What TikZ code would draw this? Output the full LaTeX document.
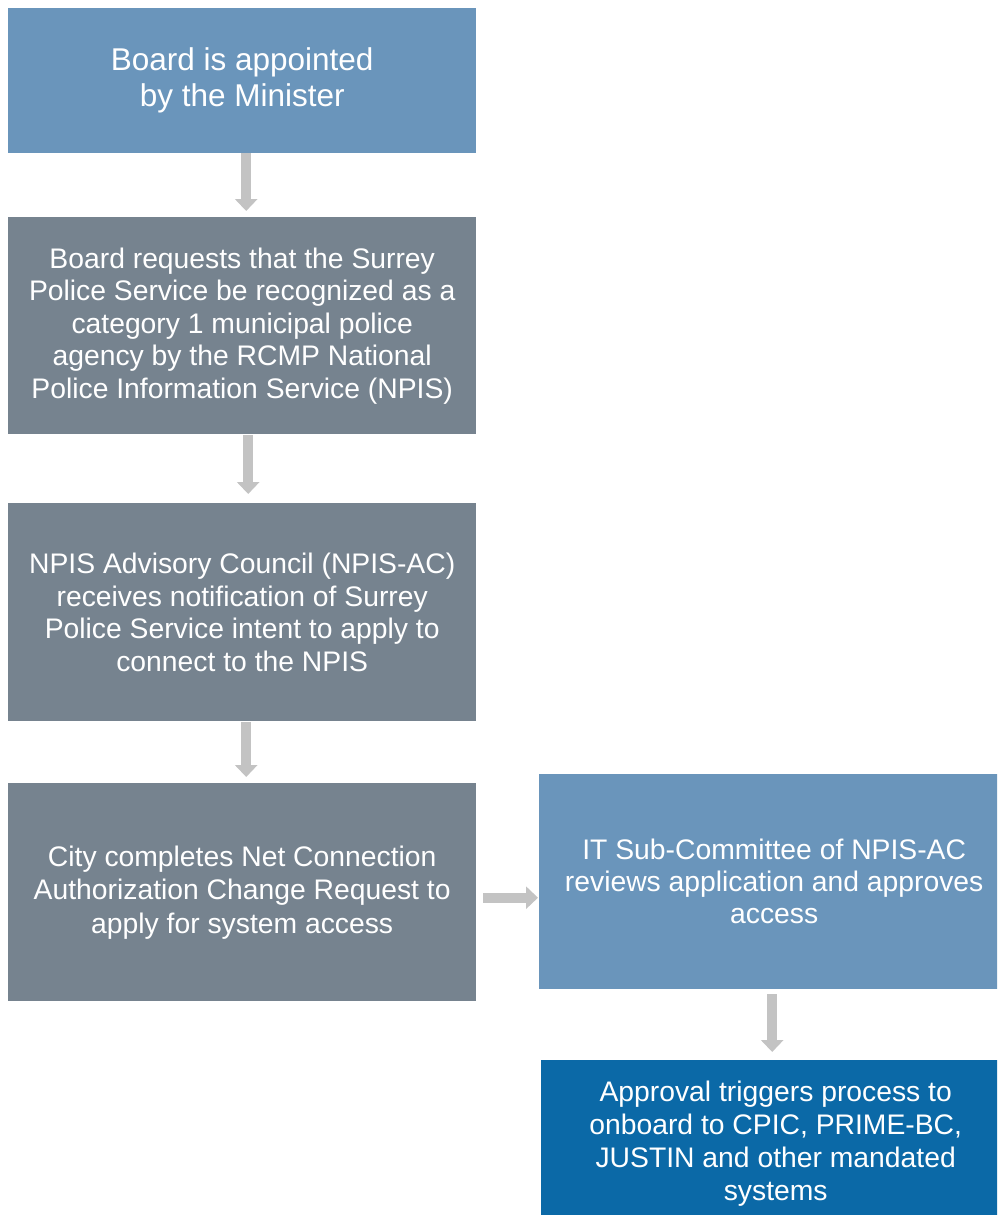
\documentclass[tikz,border=0pt]{standalone}
\usepackage{fontspec}
\setmainfont{Liberation Sans}
\usetikzlibrary{arrows.meta}
\definecolor{paleblue}{HTML}{6A95BB}
\definecolor{slate}{HTML}{76838F}
\definecolor{deepblue}{HTML}{0B69A7}
\definecolor{arrowgray}{HTML}{C3C3C3}
\begin{document}
\begin{tikzpicture}[x=1pt,y=1pt,
  stepbox/.style={anchor=north west, inner sep=0pt, text=white, align=center,
    font=\fontsize{28.3}{32.5}\selectfont},
  flow/.style={draw=arrowgray, line width=10pt,
    -{Triangle[width=22pt,length=12pt]}}]
\useasboundingbox (0,0) rectangle (997,-1215);
\fill[white] (0,0) rectangle (997,-1215);
\begin{scope}
\clip (0,0) rectangle (997,-1215);

\node[stepbox, fill=paleblue, minimum width=468pt, minimum height=145pt,
  font=\fontsize{31.5}{36}\selectfont] (b1) at (8,-8)
  {Board is appointed\\by the Minister};
\node[stepbox, fill=slate, minimum width=468pt, minimum height=217pt] (b2) at (8,-217)
  {Board requests that the Surrey\\Police Service be recognized as a\\category 1 municipal police\\agency by the RCMP National\\Police Information Service (NPIS)};
\node[stepbox, fill=slate, minimum width=468pt, minimum height=218pt] (b3) at (8,-503)
  {NPIS Advisory Council (NPIS-AC)\\receives notification of Surrey\\Police Service intent to apply to\\connect to the NPIS};
\node[stepbox, fill=slate, minimum width=468pt, minimum height=218pt,
  font=\fontsize{28.3}{33.5}\selectfont] (b4) at (8,-783)
  {City completes Net Connection\\Authorization Change Request to\\apply for system access};
\node[stepbox, fill=paleblue, minimum width=470pt, minimum height=215pt,
  font=\fontsize{28.3}{32}\selectfont] (b5) at (539,-774)
  {IT Sub-Committee of NPIS-AC\\reviews application and approves\\access};
\node[stepbox, fill=deepblue, minimum width=469pt, minimum height=166pt,
  font=\fontsize{28.3}{33}\selectfont] (b6) at (541,-1060)
  {Approval triggers process to\\onboard to CPIC, PRIME-BC,\\JUSTIN and other mandated\\systems};

\draw[flow, shorten >=6pt] ([xshift=4pt]b1.south) -- ([xshift=4pt]b1.south |- b2.north);
\draw[flow, shorten <=1pt, shorten >=9pt] ([xshift=6pt]b2.south) -- ([xshift=6pt]b2.south |- b3.north);
\draw[flow, shorten <=1pt, shorten >=6pt] ([xshift=4pt]b3.south) -- ([xshift=4pt]b3.south |- b4.north);
\draw[flow, shorten <=7pt, shorten >=1pt] ([yshift=-5.5pt]b4.east) -- ([yshift=-5.5pt]b4.east -| b5.west);
\draw[flow, shorten <=5pt, shorten >=8pt] ([xshift=-2pt]b5.south) -- ([xshift=-2pt]b5.south |- b6.north);
\end{scope}
\end{tikzpicture}
\end{document}
